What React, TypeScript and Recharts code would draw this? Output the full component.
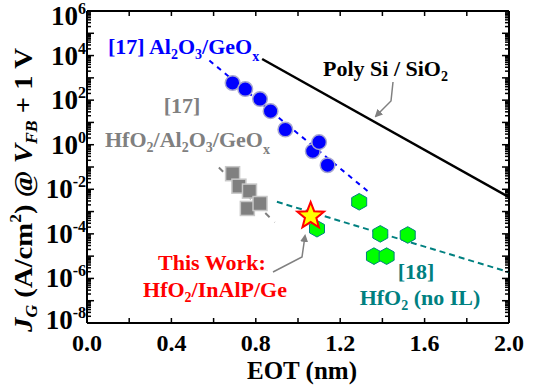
import { ComposedChart, Scatter, XAxis, YAxis } from 'recharts'

const FONT = '"Liberation Serif", "Times New Roman", Tinos, serif'

// [17] Al2O3/GeOx
const al2o3Eot = [0.69, 0.75, 0.82, 0.87, 0.94, 1.07, 1.1, 1.14]
const al2o3Jg = [590, 316, 112, 32, 4.8, 0.51, 1.3, 0.12]
// [17] HfO2/Al2O3/GeOx
const hfAlEot = [0.69, 0.72, 0.76, 0.77, 0.82]
const hfAlJg = [0.05, 0.0138, 0.00138, 0.0083, 0.0023]
// [18] HfO2 (no IL)
const noIlEot = [1.09, 1.29, 1.39, 1.52, 1.36, 1.42]
const noIlJg = [1.7e-4, 2.75e-3, 1.0e-4, 8.9e-5, 1.0e-5, 1.0e-5]
// this work
const thisWorkEot = [1.06]
const thisWorkJg = [6.3e-4]

// trend lines
const polySiEot = [0.83, 2.0]
const polySiJg = [7000, 4.4e-3]
const al2o3FitEot = [0.58, 1.33]
const al2o3FitJg = [6000, 8.3e-3]
const hfAlFitEot = [0.625, 0.89]
const hfAlFitJg = [0.095, 3.3e-4]
const noIlFitEot = [0.9, 2.0]
const noIlFitJg = [2.75e-3, 1.9e-6]

const xTicks = [0, 0.2, 0.4, 0.6, 0.8, 1.0, 1.2, 1.4, 1.6, 1.8, 2.0]
const xLabels = ['0.0', '', '0.4', '', '0.8', '', '1.2', '', '1.6', '', '2.0']
const yExps = [-8, -7, -6, -5, -4, -3, -2, -1, 0, 1, 2, 3, 4, 5, 6]
const yLabelExps = [-8, -6, -4, -2, 0, 2, 4, 6]

const yTicks: number[] = []
yExps.forEach((e) => {
  const n = e === 6 ? 1 : 9
  for (let m = 1; m <= n; m++) yTicks.push(m * Math.pow(10, e))
})

const pts = (xs: number[], ys: number[]) => xs.map((x, i) => ({ x, y: ys[i] }))

const expOf = (v: number) => {
  const l = Math.log10(v)
  const r = Math.round(l)
  return Math.abs(l - r) < 1e-6 ? r : null
}

const LeftTick = (p: any) => {
  const e = expOf(p.payload.value)
  const len = e === null ? 4 : 7
  // the end labels sit a little inside the frame, as in the original
  const shift = e === 6 ? 5 : e === -8 ? -3 : 0
  return (
    <g>
      <line x1={p.x} x2={p.x + len} y1={p.y} y2={p.y} stroke="#000" strokeWidth={1.5} />
      {e !== null && yLabelExps.includes(e) && (
        <text x={p.x - 1} y={p.y + 9 + shift} textAnchor="end" style={{ fontFamily: FONT, fontWeight: 'bold' }} fontSize={27} fill="#000">
          10<tspan dy={-11} fontSize={16}>{e}</tspan>
        </text>
      )}
    </g>
  )
}

const RightTick = (p: any) => {
  const e = expOf(p.payload.value)
  const len = e === null ? 4 : 7
  return <line x1={p.x} x2={p.x - len} y1={p.y} y2={p.y} stroke="#000" strokeWidth={1.5} />
}

const BottomTick = (p: any) => {
  const i = xTicks.findIndex((t) => Math.abs(t - p.payload.value) < 1e-6)
  return (
    <g>
      <line x1={p.x} x2={p.x} y1={p.y} y2={p.y - 5} stroke="#000" strokeWidth={1.5} />
      <text x={p.x} y={p.y + 28} textAnchor="middle" style={{ fontFamily: FONT, fontWeight: 'bold' }} fontSize={24} fill="#000">
        {xLabels[i]}
      </text>
    </g>
  )
}

const TopTick = (p: any) => (
  <line x1={p.x} x2={p.x} y1={p.y} y2={p.y + 5} stroke="#000" strokeWidth={1.5} />
)

const Circle = (p: any) => (
  <circle cx={p.cx} cy={p.cy} r={7.3} fill="#0000ff" stroke="#a8a8d0" strokeWidth={1.5} />
)

const Square = (p: any) => (
  <rect x={p.cx - 7} y={p.cy - 7} width={14} height={14} fill="#808080" stroke="#c8c8c8" strokeWidth={1.5} />
)

const Hexagon = (p: any) => {
  const rx = 7.5
  const ry = 8.3
  const d = `M${p.cx},${p.cy - ry} L${p.cx + rx},${p.cy - ry / 2} L${p.cx + rx},${p.cy + ry / 2} L${p.cx},${p.cy + ry} L${p.cx - rx},${p.cy + ry / 2} L${p.cx - rx},${p.cy - ry / 2} Z`
  return <path d={d} fill="#00ff00" stroke="#008080" strokeWidth={1} />
}

const Star = (p: any) => {
  const pointsArr: string[] = []
  for (let k = 0; k < 10; k++) {
    const r = k % 2 === 0 ? 14 : 6
    const a = -Math.PI / 2 + (k * Math.PI) / 5
    pointsArr.push(`${p.cx + r * Math.cos(a)},${p.cy + r * Math.sin(a)}`)
  }
  return <polygon points={pointsArr.join(' ')} fill="#ffff00" stroke="#ff0000" strokeWidth={2} />
}

const Nothing = () => <g />

const axisLine = { stroke: '#000', strokeWidth: 2 }

export default function App() {
  return (
    <div style={{ position: 'absolute', left: 0, top: 0, width: 537, height: 385, background: '#fff' }}>
      <ComposedChart width={537} height={385} margin={{ top: 10, right: 27, bottom: 32, left: 47 }}>
        <XAxis xAxisId={0} dataKey="x" type="number" domain={[0, 2]} ticks={xTicks} interval={0}
          tickSize={0} tickMargin={0} height={30} axisLine={axisLine} tick={<BottomTick />} allowDataOverflow />
        <XAxis xAxisId="t" orientation="top" dataKey="x" type="number" domain={[0, 2]} ticks={xTicks} interval={0}
          tickSize={0} tickMargin={0} height={1} axisLine={axisLine} tick={<TopTick />} allowDataOverflow />
        <YAxis yAxisId={0} dataKey="y" type="number" scale="log" domain={[1e-8, 1e6]} ticks={yTicks} interval={0}
          tickSize={0} tickMargin={0} width={40} axisLine={axisLine} tick={<LeftTick />} allowDataOverflow />
        <YAxis yAxisId="r" orientation="right" dataKey="y" type="number" scale="log" domain={[1e-8, 1e6]} ticks={yTicks} interval={0}
          tickSize={0} tickMargin={0} width={1} axisLine={axisLine} tick={<RightTick />} allowDataOverflow />

        <Scatter data={pts(polySiEot, polySiJg)} line={{ stroke: '#000', strokeWidth: 2.5 }} shape={<Nothing />} isAnimationActive={false} />
        <Scatter data={pts(al2o3FitEot, al2o3FitJg)} line={{ stroke: '#0000ff', strokeWidth: 2, strokeDasharray: '5 5' }} shape={<Nothing />} isAnimationActive={false} />
        <Scatter data={pts(hfAlFitEot, hfAlFitJg)} line={{ stroke: '#808080', strokeWidth: 2, strokeDasharray: '6 7' }} shape={<Nothing />} isAnimationActive={false} />
        <Scatter data={pts(noIlFitEot, noIlFitJg)} line={{ stroke: '#008080', strokeWidth: 2, strokeDasharray: '6 4' }} shape={<Nothing />} isAnimationActive={false} />

        <Scatter data={pts(al2o3Eot, al2o3Jg)} shape={<Circle />} isAnimationActive={false} />
        <Scatter data={pts(hfAlEot, hfAlJg)} shape={<Square />} isAnimationActive={false} />
        <Scatter data={pts(noIlEot, noIlJg)} shape={<Hexagon />} isAnimationActive={false} />
        <Scatter data={pts(thisWorkEot, thisWorkJg)} shape={<Star />} isAnimationActive={false} />
      </ComposedChart>

      <svg width={537} height={385} style={{ position: 'absolute', left: 0, top: 0, pointerEvents: 'none', fontFamily: FONT, fontWeight: 'bold' }}>
        <defs>
          <marker id="arr" markerWidth="8" markerHeight="8" refX="6" refY="4" orient="auto" markerUnits="userSpaceOnUse">
            <path d="M0,0 L8,4 L0,8 Z" fill="#808080" />
          </marker>
        </defs>

        {/* axis titles */}
        <text x={302} y={378.5} textAnchor="middle" fontSize={25} fill="#000">EOT (nm)</text>
        <text x={32} y={190} textAnchor="middle" fontSize={26} fill="#000" transform="rotate(-90 32 190)"
          textLength={284} lengthAdjust="spacingAndGlyphs">
          <tspan fontStyle="italic">J</tspan>
          <tspan fontStyle="italic" fontSize={16} dy={5}>G</tspan>
          <tspan dy={-5}> (A/cm</tspan>
          <tspan fontSize={16} dy={-11}>2</tspan>
          <tspan dy={11}>) @ </tspan>
          <tspan fontStyle="italic">V</tspan>
          <tspan fontStyle="italic" fontSize={16} dy={5}>FB</tspan>
          <tspan dy={-5}> + 1 V</tspan>
        </text>

        {/* series labels */}
        <text x={108} y={54} fontSize={22} fill="#0000ff">
          [17] Al<tspan fontSize={14} dy={5}>2</tspan><tspan dy={-5}>O</tspan><tspan fontSize={14} dy={5}>3</tspan><tspan dy={-5}>/GeO</tspan><tspan fontSize={14} dy={7}>x</tspan>
        </text>
        <text x={323} y={76} fontSize={22} fill="#000">
          Poly Si / SiO<tspan fontSize={14} dy={5}>2</tspan>
        </text>
        <text x={182} y={113} textAnchor="middle" fontSize={22} fill="#808080">[17]</text>
        <text x={105} y={147} fontSize={22} fill="#808080">
          HfO<tspan fontSize={14} dy={5}>2</tspan><tspan dy={-5}>/Al</tspan><tspan fontSize={14} dy={5}>2</tspan><tspan dy={-5}>O</tspan><tspan fontSize={14} dy={5}>3</tspan><tspan dy={-5}>/GeO</tspan><tspan fontSize={14} dy={7}>x</tspan>
        </text>
        <text x={212} y={270} textAnchor="middle" fontSize={22} fill="#ff0000">This Work:</text>
        <text x={215} y={297} textAnchor="middle" fontSize={22} fill="#ff0000">
          HfO<tspan fontSize={14} dy={5}>2</tspan><tspan dy={-5}>/InAlP/Ge</tspan>
        </text>
        <text x={416} y={279} textAnchor="middle" fontSize={22} fill="#008080">[18]</text>
        <text x={420} y={305} textAnchor="middle" fontSize={22} fill="#008080">
          HfO<tspan fontSize={14} dy={5}>2</tspan><tspan dy={-5}> (no IL)</tspan>
        </text>

        {/* arrows */}
        <path d="M393,82 L391,101 L376,116" fill="none" stroke="#808080" strokeWidth={1.5} markerEnd="url(#arr)" />
        <path d="M273,272 L302,257 L305,236" fill="none" stroke="#808080" strokeWidth={1.5} markerEnd="url(#arr)" />
      </svg>
    </div>
  )
}
